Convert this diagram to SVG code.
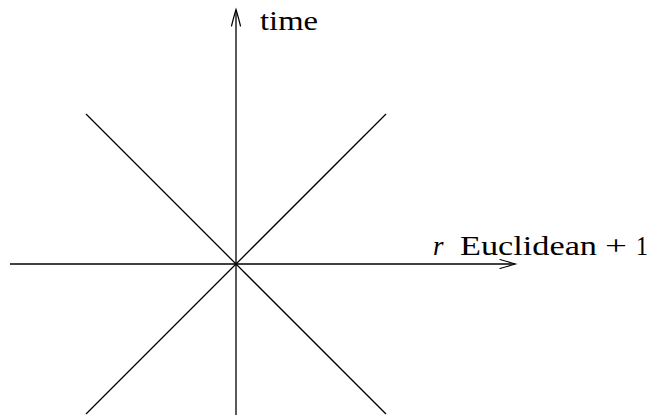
<svg xmlns="http://www.w3.org/2000/svg" width="651" height="415" viewBox="0 0 651 415">
<style>
.ln{stroke:#000;stroke-width:1.3;fill:none}
.ah{stroke:#000;stroke-width:1.2;fill:none;stroke-linecap:round}
.lbl{font-family:"Liberation Serif","DejaVu Serif",serif;font-size:27px;fill:#000}
</style>
<g id="connectors">
<line class="ln" x1="236" y1="415" x2="236" y2="10"/>
<path class="ah" d="M231.5,26 Q234,16 236,9.5 Q238,16 240.5,26"/>
<line class="ln" x1="10" y1="264" x2="515" y2="264"/>
<path class="ah" d="M500,259.5 Q509,262 515.5,264 Q509,266 500,268.5"/>
<line class="ln" x1="86" y1="114" x2="386" y2="414"/>
<line class="ln" x1="386" y1="114" x2="86" y2="414"/>
</g>
<g id="label-time">
<text class="lbl" x="260" y="30" textLength="58" lengthAdjust="spacingAndGlyphs">time</text>
</g>
<g id="label-r">
<text class="lbl" x="433" y="255" font-style="italic">r</text>
<text class="lbl" x="460" y="255" textLength="137" lengthAdjust="spacingAndGlyphs">Euclidean</text>
<text class="lbl" x="605" y="255" textLength="22" lengthAdjust="spacingAndGlyphs">+</text>
<text class="lbl" x="636" y="255" textLength="12" lengthAdjust="spacingAndGlyphs">1</text>
</g>
</svg>
